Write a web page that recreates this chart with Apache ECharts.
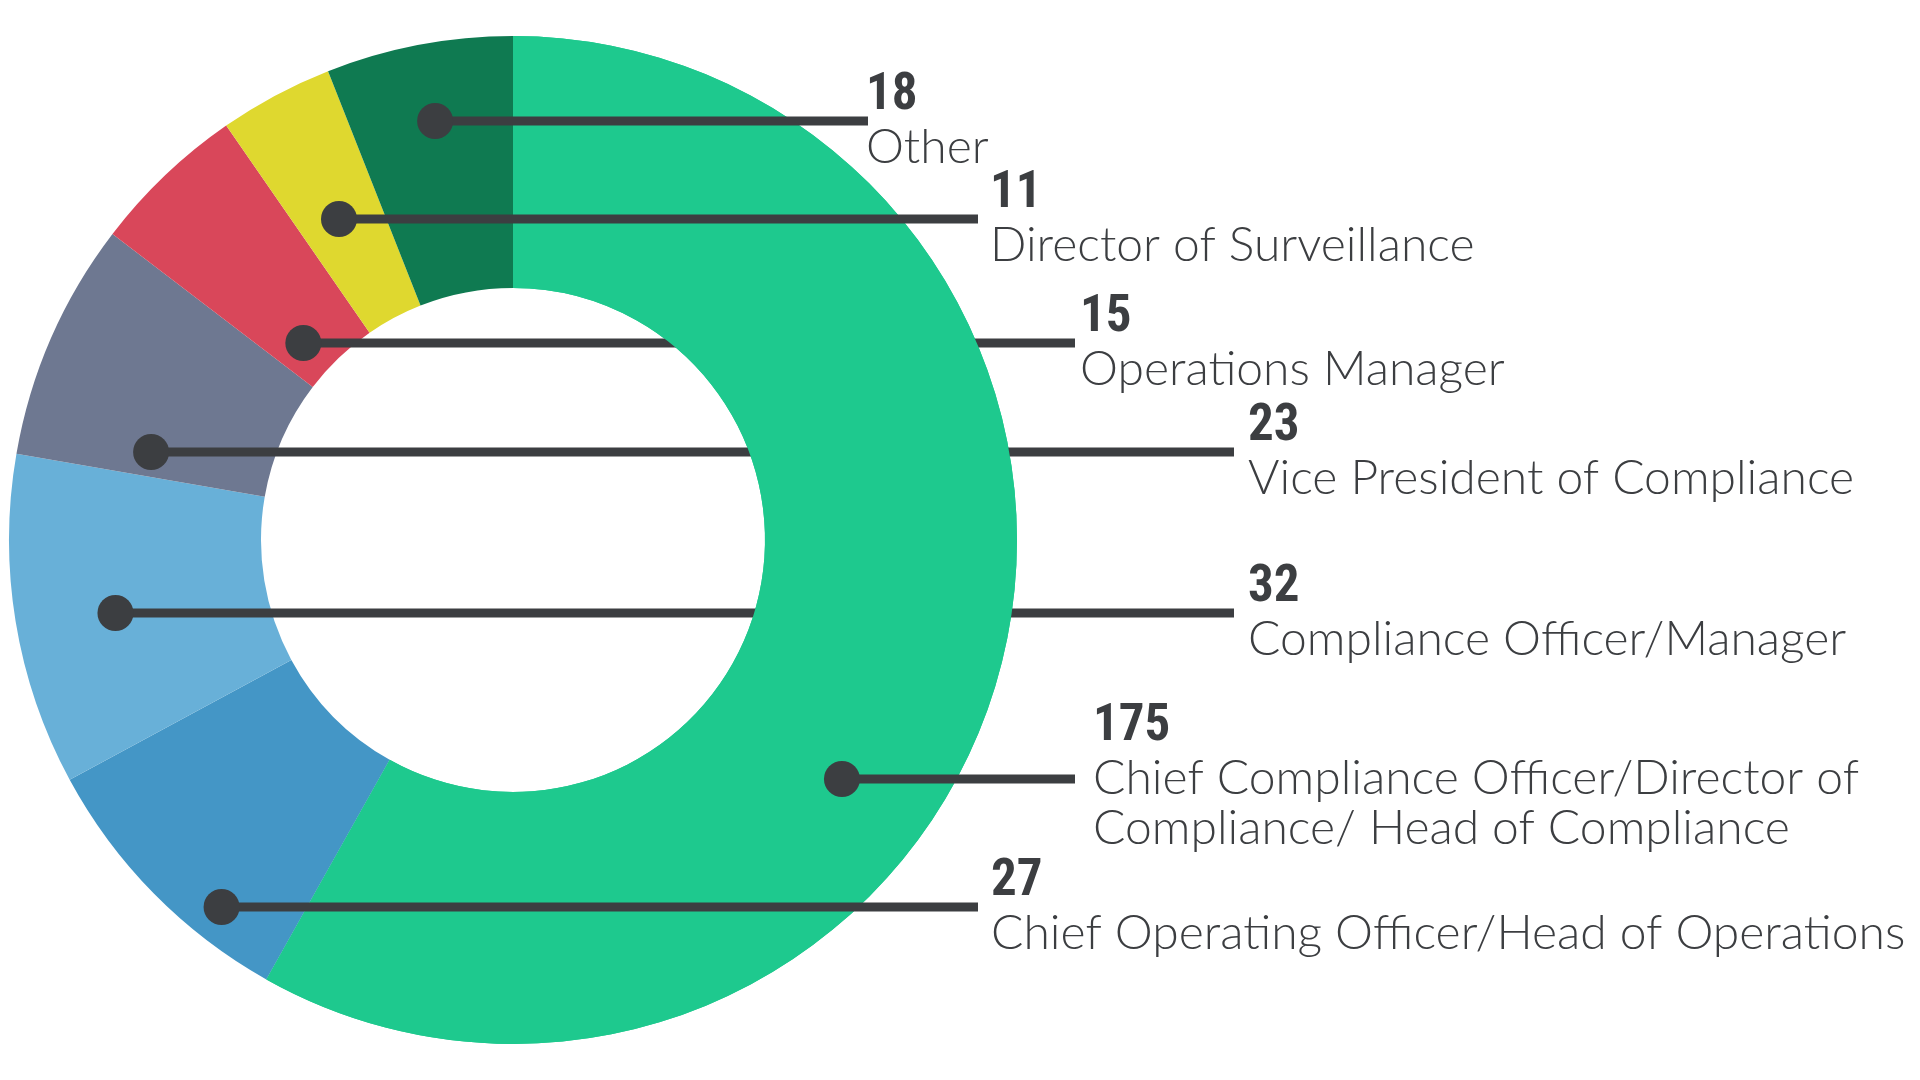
<!DOCTYPE html>
<html>
<head>
<meta charset="utf-8">
<script src="https://cdn.jsdelivr.net/npm/echarts@6/dist/echarts.min.js"></script>
<style>
html,body{margin:0;padding:0;background:#ffffff;}
#chart{width:1920px;height:1080px;}
</style>
</head>
<body>
<div id="chart"></div>
<script>
// ---------- data ----------
const categories = [
  'Chief Compliance Officer/Director of Compliance/ Head of Compliance',
  'Chief Operating Officer/Head of Operations',
  'Compliance Officer/Manager',
  'Vice President of Compliance',
  'Operations Manager',
  'Director of Surveillance',
  'Other'
];
const values = [175, 27, 32, 23, 15, 11, 18];
const colors = ['#1ec98e', '#4496c6', '#68b0d8', '#6e7891', '#d9475a', '#dfd82f', '#0f7a51'];

// ---------- annotation layout (px) ----------
const lineY    = [779, 907, 613, 452, 343, 219, 121];
const lineEndX = [1075, 978, 1234, 1234, 1075, 978, 868];
const textX    = [1093, 991, 1248, 1248, 1080, 990, 866];
const lineBehindRing = [false, false, true, true, true, false, false];

const CX = 513, CY = 540, R_IN = 252, R_OUT = 504;
const DOT_R = 18, LINE_W = 9, INK = '#3c3e41';
const NUM_FONT = "'Liberation Sans Narrow', 'Roboto Condensed', Roboto, sans-serif";
const NAME_FONT = "Lato, Roboto, sans-serif";
const NUM_SIZE = 51, NAME_SIZE = 48;

const total = values.reduce((a, b) => a + b, 0);
const starts = [];
values.reduce((acc, v) => { starts.push(acc); return acc + v; }, 0);

// dot: point on the label's horizontal line that lies inside its own slice
function dotX(i) {
  const a = starts[i] / total * 360, b = (starts[i] + values[i]) / total * 360;
  const span = b - a, mid = (a + b) / 2, m = Math.min(3, span * 0.15);
  const rPref = R_IN + 0.6 * (R_OUT - R_IN), rMin = R_IN + DOT_R + 4, rMax = R_OUT - DOT_R - 4;
  const dy = lineY[i] - CY;
  let best = null;
  for (let t = a + m; t <= b - m; t += 0.05) {
    const rad = t * Math.PI / 180;
    const c = -Math.cos(rad);
    if (Math.abs(c) < 1e-6) continue;
    const rho = dy / c;
    if (rho < rMin || rho > rMax) continue;
    const cost = Math.pow((t - mid) / span, 2) + Math.pow((rho - rPref) / (R_OUT - R_IN), 2);
    if (!best || cost < best.cost) best = { cost: cost, x: CX + rho * Math.sin(rad) };
  }
  if (!best) return CX + rPref * Math.sin(mid * Math.PI / 180);
  return best.x;
}
const dots = values.map((v, i) => dotX(i));

// wrap names to the space right of their text start
const mctx = document.createElement('canvas').getContext('2d');
function wrapName(name, maxW) {
  mctx.font = '300 ' + NAME_SIZE + 'px ' + NAME_FONT;
  const words = name.split(' ');
  const lines = [];
  let cur = '';
  words.forEach(w => {
    const t = cur ? cur + ' ' + w : w;
    if (cur && mctx.measureText(t).width > maxW) { lines.push(cur); cur = w; }
    else cur = t;
  });
  lines.push(cur);
  return lines;
}
const nameLines = categories.map((c, i) => wrapName(c, 1920 - textX[i] - 6));

const mainIndex = values.indexOf(Math.max.apply(null, values));
const CLEAR = 'rgba(0,0,0,0)';

function textLayout(params) {
  const i = params.dataIndex;
  const y = lineY[i];
  const multi = nameLines[i].length > 1;
  return {
    x: textX[i],
    y: y - (multi ? 79 : 52),
    align: 'left',
    verticalAlign: 'top',
    labelLinePoints: [[dots[i], y], [lineEndX[i], y], [lineEndX[i], y]]
  };
}

const textLabel = {
  show: true,
  position: 'outside',
  padding: 0,
  formatter: function (p) {
    const i = p.dataIndex;
    return '{num|' + values[i] + '}\n' + nameLines[i].map(l => '{name|' + l + '}').join('\n');
  },
  rich: {
    num: { fontFamily: NUM_FONT, fontWeight: 'bold', fontSize: NUM_SIZE, lineHeight: 54, color: INK },
    name: { fontFamily: NAME_FONT, fontWeight: 300, fontSize: NAME_SIZE, lineHeight: 50, color: INK }
  }
};
const textLine = {
  show: true, smooth: false, length: 10, length2: 10,
  lineStyle: { color: INK, width: LINE_W, cap: 'butt' }
};

function buildData(colorFn, showFn) {
  return values.map((v, i) => ({
    value: v,
    name: categories[i],
    itemStyle: { color: colorFn(i) },
    label: { show: showFn(i) },
    labelLine: { show: showFn(i) }
  }));
}

const pieBase = {
  type: 'pie',
  center: [CX, CY],
  radius: [R_IN, R_OUT],
  startAngle: 90,
  clockwise: true,
  avoidLabelOverlap: false,
  silent: true,
  animation: false,
  emphasis: { disabled: true },
  itemStyle: { borderWidth: 0 }
};

function annotationSeries(name, z, showFn) {
  return Object.assign({}, pieBase, {
    name: name, z: z,
    data: buildData(() => CLEAR, showFn),
    label: textLabel, labelLine: textLine, labelLayout: textLayout
  });
}

const chart = echarts.init(document.getElementById('chart'), null, { renderer: 'canvas' });
chart.setOption({
  backgroundColor: '#ffffff',
  animation: false,
  series: [
    // full ring
    Object.assign({}, pieBase, {
      name: 'ring', z: 2,
      data: buildData(i => colors[i], () => false),
      label: { show: false }, labelLine: { show: false }
    }),
    // leader lines that pass under the main slice
    annotationSeries('labels-under', 3, i => lineBehindRing[i]),
    // main slice drawn again on top of those lines
    Object.assign({}, pieBase, {
      name: 'main', z: 4,
      data: buildData(i => (i === mainIndex ? colors[i] : CLEAR), () => false),
      label: { show: false }, labelLine: { show: false }
    }),
    // leader lines drawn over everything
    annotationSeries('labels-over', 5, i => !lineBehindRing[i]),
    // dots
    Object.assign({}, pieBase, {
      name: 'dots', z: 6,
      data: buildData(() => CLEAR, () => true).map(d => Object.assign(d, { labelLine: { show: false } })),
      label: {
        show: true, position: 'outside', formatter: ' ', padding: 0,
        width: DOT_R * 2, height: DOT_R * 2, lineHeight: DOT_R * 2,
        borderRadius: DOT_R, backgroundColor: INK
      },
      labelLine: { show: false },
      labelLayout: function (params) {
        const i = params.dataIndex;
        return { x: dots[i], y: lineY[i], align: 'center', verticalAlign: 'middle' };
      }
    })
  ]
});
</script>
</body>
</html>
